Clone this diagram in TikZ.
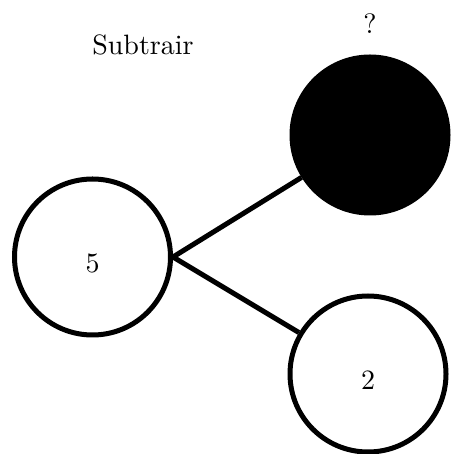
\documentclass[tikz,border=0pt]{standalone}
\usepackage{fontspec}
\setmainfont{lmroman10-regular.otf}
\usetikzlibrary{positioning}
\begin{document}
\begin{tikzpicture}[x=1pt, y=1pt, line width=5pt,
    every node/.style={font=\fontsize{28}{34}\selectfont},
    vertex/.style={circle, draw, minimum size=156pt, inner sep=0pt, text height=32pt}]
    \useasboundingbox (0,0) rectangle (452,454);
    \node[vertex] (five) at (92.5,197) {5};
    \node[vertex, fill=black] (unknown) at (370,319) {};
    \node[vertex] (two) at (368,80) {2};
    \node[above=15pt of unknown] (ask) {?};
    \node (sub) at (143,409) {Subtrair};

    \draw (five.east) -- (unknown);
    \draw (five.east) -- (two);
\end{tikzpicture}
\end{document}
